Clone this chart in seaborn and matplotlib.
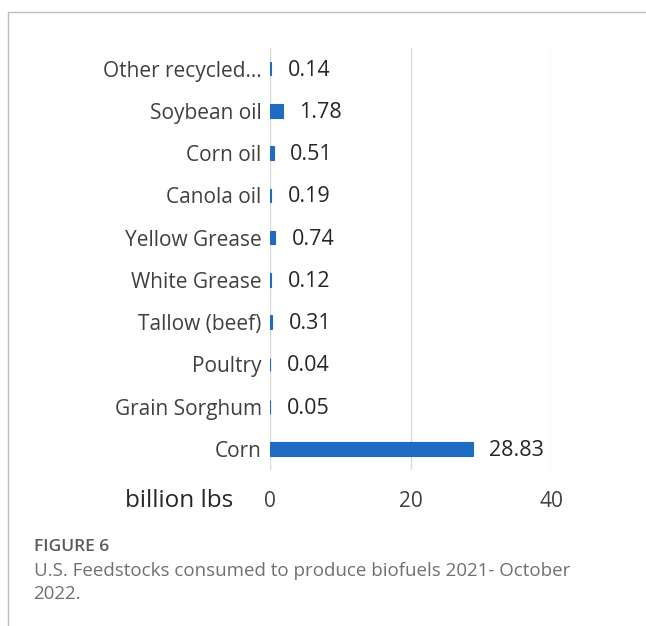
import pandas as pd
import matplotlib.pyplot as plt
import seaborn as sns
from matplotlib.lines import Line2D

# Data
feedstocks = ['Other recycled...', 'Soybean oil', 'Corn oil', 'Canola oil', 'Yellow Grease',
              'White Grease', 'Tallow (beef)', 'Poultry', 'Grain Sorghum', 'Corn']
consumed = [0.14, 1.78, 0.51, 0.19, 0.74, 0.12, 0.31, 0.04, 0.05, 28.83]
x_ticks = [0, 20, 40]

df = pd.DataFrame({'Feedstock': feedstocks, 'Consumed': consumed})

sns.set_style('white')
plt.rcParams['font.family'] = ['Open Sans', 'DejaVu Sans']

fig = plt.figure(figsize=(6.46, 6.26), dpi=100)
ax = fig.add_axes([0.418, 0.249, 0.435, 0.675])

sns.barplot(data=df, x='Consumed', y='Feedstock', orient='h', color='#1F6BC4',
            width=0.32, saturation=1, edgecolor='#1F6BC4', linewidth=0.8, ax=ax)

for i, v in enumerate(consumed):
    ax.annotate(f'{v:.2f}', xy=(v, i), xytext=(12, -1), textcoords='offset points',
                ha='left', va='center', fontsize=15.5, color='#262626')

ax.set_xlim(0, 40)
ax.set_ylim(9.5, -0.5)
ax.set_xticks(x_ticks)
ax.set_xticklabels([str(t) for t in x_ticks], fontsize=15, color='#404040')
ax.tick_params(axis='x', length=0, pad=15)
ax.tick_params(axis='y', length=0, pad=6, labelsize=15, labelcolor='#404040')
ax.set_xlabel('')
ax.set_ylabel('')
ax.grid(axis='x', color='#d9d9d9', linewidth=1)
ax.set_axisbelow(True)
for s in ax.spines.values():
    s.set_visible(False)

fig.text(0.194, 0.200, 'billion lbs', fontsize=17.5, color='#262626', va='center')

# Caption
fig.text(0.052, 0.126, 'FIGURE 6', fontsize=12.5, color='#5a5a5a', weight='semibold', va='center')
fig.text(0.052, 0.088, 'U.S. Feedstocks consumed to produce biofuels 2021- October',
         fontsize=13.5, color='#707070', va='center')
fig.text(0.052, 0.051, '2022.', fontsize=13.5, color='#707070', va='center')

# Frame lines
fig.add_artist(Line2D([0.012, 1.0], [0.981, 0.981], color='#bdbdbd', linewidth=1))
fig.add_artist(Line2D([0.012, 0.012], [0.0, 0.981], color='#bdbdbd', linewidth=1))

fig.savefig('out.png', dpi=100)
